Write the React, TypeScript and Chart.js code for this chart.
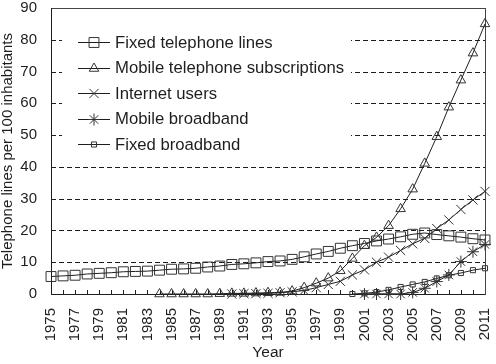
import React, { useEffect, useRef } from "react";
import { Chart, registerables } from "chart.js";
import { drawPoint } from "chart.js/helpers";

Chart.register(...registerables);

const years = [
  1975, 1976, 1977, 1978, 1979, 1980, 1981, 1982, 1983, 1984, 1985, 1986, 1987,
  1988, 1989, 1990, 1991, 1992, 1993, 1994, 1995, 1996, 1997, 1998, 1999, 2000,
  2001, 2002, 2003, 2004, 2005, 2006, 2007, 2008, 2009, 2010, 2011,
];

const fixedTelephone = [
  5.5, 5.7, 5.9, 6.3, 6.5, 6.7, 7.0, 7.1, 7.2, 7.5, 7.8, 7.9, 8.1,
  8.5, 8.8, 9.3, 9.5, 9.8, 10.2, 10.4, 10.9, 11.7, 12.6, 13.4, 14.4, 15.2,
  15.9, 16.7, 17.3, 18.0, 18.8, 19.2, 18.7, 18.3, 17.9, 17.4, 17.0,
];

const mobileTelephone = [
  null, null, null, null, null, null, null, null, null, 0, 0, 0, 0,
  0, 0.1, 0.2, 0.2, 0.3, 0.4, 0.5, 0.9, 2.0, 3.4, 5.0, 7.3, 11.2,
  15.2, 17.8, 21.5, 26.8, 33.0, 41.1, 49.5, 58.8, 67.3, 75.8, 85.0,
];

const internetUsers = [
  null, null, null, null, null, null, null, null, null, null, null, null, null,
  null, null, 0, 0.1, 0.1, 0.2, 0.4, 0.7, 1.1, 2.0, 3.0, 4.0, 6.0,
  7.6, 10.0, 11.6, 13.7, 15.8, 17.5, 20.6, 23.3, 26.6, 29.6, 32.3,
];

const mobileBroadband = [
  null, null, null, null, null, null, null, null, null, null, null, null, null,
  null, null, null, null, null, null, null, null, null, null, null, null, null,
  0, 0, 0, 0, 0.5, 1.8, 3.9, 6.0, 10.2, 13.3, 15.6,
];

const fixedBroadband = [
  null, null, null, null, null, null, null, null, null, null, null, null, null,
  null, null, null, null, null, null, null, null, null, null, null, null, 0,
  0.2, 0.6, 1.3, 2.2, 3.0, 3.8, 4.9, 5.9, 6.6, 7.5, 8.1,
];

const seriesNames = [
  "Fixed telephone lines",
  "Mobile telephone subscriptions",
  "Internet users",
  "Mobile broadband",
  "Fixed broadband",
];
const seriesValues = [fixedTelephone, mobileTelephone, internetUsers, mobileBroadband, fixedBroadband];
const seriesMarkers = ["rect", "triangle", "crossRot", "star", "rect"];
const seriesRadius = [7, 5.5, 6.5, 6, 3.6];

const yMin = 0;
const yMax = 90;
const yStep = 10;

const FONT = "'Liberation Sans', Arial, Helvetica, sans-serif";
const INK = "#1e1e1e";
const MARK = "#333333";

const framePlugin = {
  id: "frame",
  beforeDatasetsDraw(chart: any) {
    const { ctx, chartArea: a, scales } = chart;
    const x = scales.x;
    const y = scales.y;
    ctx.save();
    ctx.strokeStyle = INK;
    ctx.lineWidth = 1;
    ctx.setLineDash([5, 3]);
    y.ticks.forEach((t: any) => {
      if (t.value <= yMin || t.value >= yMax) return;
      const py = Math.round(y.getPixelForValue(t.value)) + 0.5;
      ctx.beginPath();
      ctx.moveTo(a.left, py);
      ctx.lineTo(a.right, py);
      ctx.stroke();
    });
    ctx.setLineDash([]);
    x.ticks.forEach((t: any) => {
      const px = Math.round(x.getPixelForValue(t.value)) + 0.5;
      ctx.beginPath();
      ctx.moveTo(px, a.bottom);
      ctx.lineTo(px, a.bottom - 4);
      ctx.stroke();
    });
    y.ticks.forEach((t: any) => {
      const py = Math.round(y.getPixelForValue(t.value)) + 0.5;
      ctx.beginPath();
      ctx.moveTo(a.left, py);
      ctx.lineTo(a.left + 4, py);
      ctx.stroke();
    });
    ctx.strokeStyle = "#444";
    ctx.strokeRect(Math.round(a.left) + 0.5, Math.round(a.top) + 0.5, Math.round(a.right - a.left), Math.round(a.bottom - a.top));
    ctx.strokeStyle = INK;
    ctx.beginPath();
    ctx.moveTo(Math.round(a.left) + 0.5, a.top);
    ctx.lineTo(Math.round(a.left) + 0.5, Math.round(a.bottom) + 0.5);
    ctx.lineTo(a.right, Math.round(a.bottom) + 0.5);
    ctx.stroke();
    ctx.restore();
  },
  afterDraw(chart: any) {
    const { ctx, chartArea: a } = chart;
    ctx.save();
    const bx = a.left + 11;
    const by = a.top + 14;
    ctx.fillStyle = "#ffffff";
    ctx.fillRect(bx, by, 289, 134);
    const rowH = 25.5;
    const y0 = a.top + 34;
    chart.data.datasets.forEach((ds: any, i: number) => {
      const ry = y0 + i * rowH;
      ctx.strokeStyle = INK;
      ctx.lineWidth = 1;
      ctx.beginPath();
      ctx.moveTo(a.left + 27, Math.round(ry) + 0.5);
      ctx.lineTo(a.left + 59, Math.round(ry) + 0.5);
      ctx.stroke();
      ctx.strokeStyle = MARK;
      ctx.fillStyle = "rgba(0,0,0,0)";
      drawPoint(ctx, { pointStyle: ds.pointStyle, radius: ds.pointRadius, borderWidth: 1, rotation: 0 }, a.left + 43, Math.round(ry) + 0.5);
      ctx.fillStyle = INK;
      ctx.font = `16.7px ${FONT}`;
      ctx.textBaseline = "middle";
      ctx.textAlign = "left";
      ctx.fillText(ds.label, a.left + 64, ry + 1);
    });
    ctx.restore();
  },
};

export default function App() {
  const canvasRef = useRef<HTMLCanvasElement | null>(null);

  useEffect(() => {
    const canvas = canvasRef.current;
    if (!canvas) return;
    const datasets = seriesNames.map((name, i) => ({
      label: name,
      data: years
        .map((yr, j) => ({ x: yr, y: seriesValues[i][j] }))
        .filter((p) => p.y !== null && p.y !== undefined),
      borderColor: INK,
      borderWidth: 1,
      backgroundColor: "rgba(0,0,0,0)",
      pointStyle: seriesMarkers[i],
      pointRadius: seriesRadius[i],
      pointBorderColor: MARK,
      pointBackgroundColor: "rgba(0,0,0,0)",
      pointBorderWidth: 1,
      tension: 0,
      fill: false,
      clip: false as any,
    }));

    const chart = new Chart(canvas, {
      type: "line",
      data: { datasets },
      plugins: [framePlugin],
      options: {
        responsive: false,
        animation: false,
        devicePixelRatio: 1,
        layout: { padding: { left: 0, right: 11, top: 8, bottom: 0 } },
        plugins: { legend: { display: false }, tooltip: { enabled: false } },
        scales: {
          x: {
            type: "linear",
            min: years[0],
            max: years[years.length - 1],
            grid: { display: false },
            border: { display: false },
            ticks: {
              stepSize: 1,
              autoSkip: false,
              minRotation: 90,
              maxRotation: 90,
              padding: 6,
              color: INK,
              font: { family: FONT, size: 15, lineHeight: 0.2 },
              callback: (v: any) => (Number(v) % 2 === 1 ? String(v) : ""),
            },
            title: {
              display: true,
              text: "Year",
              color: INK,
              font: { family: FONT, size: 15.5, lineHeight: 1 },
              padding: { top: 0, bottom: 4 },
            },
            afterFit: (scale: any) => {
              scale.height = 70;
            },
          },
          y: {
            min: yMin,
            max: yMax,
            grid: { display: false },
            border: { display: false },
            ticks: {
              stepSize: yStep,
              padding: 6,
              color: INK,
              font: { family: FONT, size: 15, lineHeight: 0.2 },
            },
            title: {
              display: true,
              text: "Telephone lines per 100 inhabitants",
              color: INK,
              font: { family: FONT, size: 15, lineHeight: 1 },
              padding: { top: 0, bottom: 0 },
            },
            afterFit: (scale: any) => {
              scale.width = 51;
            },
          },
        },
      } as any,
    });
    return () => chart.destroy();
  }, []);

  return (
    <div style={{ position: "fixed", left: 0, top: 0, width: 496, height: 364, background: "#fff" }}>
      <canvas ref={canvasRef} width={496} height={364} style={{ width: 496, height: 364, display: "block" }} />
    </div>
  );
}
